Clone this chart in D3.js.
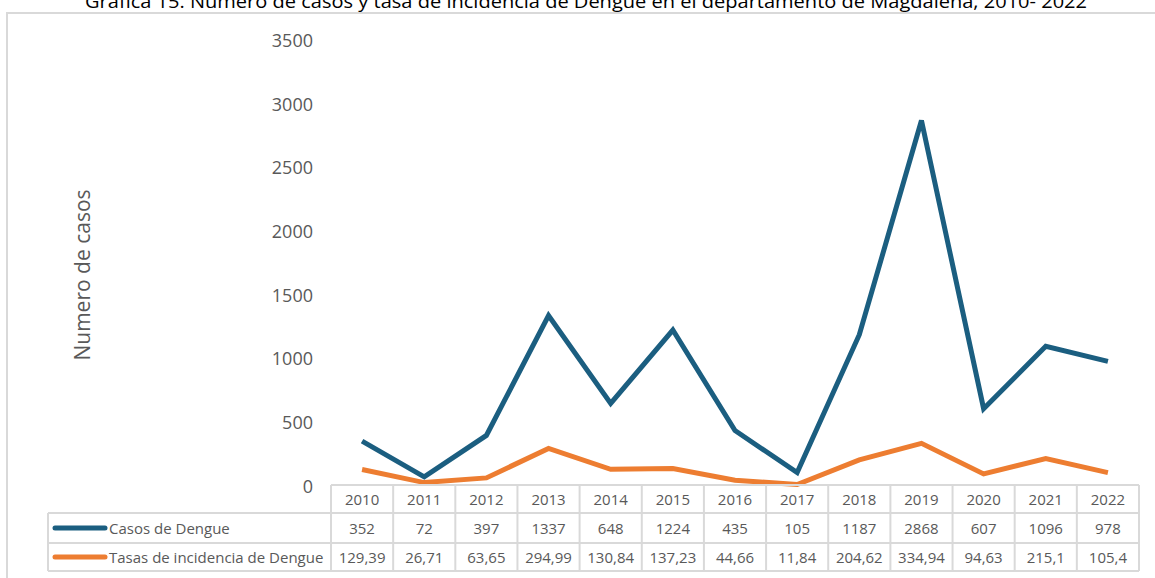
<!DOCTYPE html>
<html><head><meta charset="utf-8">
<script src="https://cdn.jsdelivr.net/npm/d3@7"></script>
<style>html,body{margin:0;padding:0;background:#fff;overflow:hidden}</style>
</head><body>
<svg id="c" width="1155" height="578"></svg>
<script>
const years = ["2010","2011","2012","2013","2014","2015","2016","2017","2018","2019","2020","2021","2022"];
const casos = [352,72,397,1337,648,1224,435,105,1187,2868,607,1096,978];
const tasas = [129.39,26.71,63.65,294.99,130.84,137.23,44.66,11.84,204.62,334.94,94.63,215.1,105.4];
const tasasLabels = ["129,39","26,71","63,65","294,99","130,84","137,23","44,66","11,84","204,62","334,94","94,63","215,1","105,4"];
const yTicks = [0,500,1000,1500,2000,2500,3000,3500];
const seriesNames = ["Casos de Dengue","Tasas de incidencia de Dengue"];
const titleText = "Gráfica 15. Número de casos y tasa de incidencia de Dengue en el departamento de Magdalena, 2010- 2022";
const yTitle = "Numero de casos";

const FONT = "'Open Sans', 'Noto Sans', sans-serif";
const GREY = "#595959";
const BORDER = "#d9d9d9";
const colors = ["#1b5e80","#ed7d31"];

const svg = d3.select("#c");

// frame
svg.append("path").attr("d","M7,580 L7,13 L1160,13").attr("fill","none")
  .attr("stroke",BORDER).attr("stroke-width",2);

// title
const t = svg.append("text").attr("x",586).attr("y",7.5).attr("text-anchor","middle")
  .attr("font-family",FONT).attr("font-size",18).attr("fill","#000").text(titleText);
t.attr("textLength",1002).attr("lengthAdjust","spacingAndGlyphs");

const tableLeft = 48, gridLeft = 331, gridRight = 1139;
const x = d3.scaleBand().domain(years).range([gridLeft, gridRight]).padding(0);
const y = d3.scaleLinear().domain([0,3500]).range([486,40]);

// y axis labels
const yAxis = d3.axisLeft(y).tickValues(yTicks).tickFormat(d3.format("d")).tickSize(0).tickPadding(0);
const ga = svg.append("g").attr("transform","translate(313,0)").call(yAxis);
ga.select(".domain").remove();
ga.selectAll("text").attr("font-family",FONT).attr("font-size",18).attr("fill",GREY).attr("dy","0.35em");

// y title
svg.append("text").attr("transform","translate(90,275) rotate(-90)").attr("text-anchor","middle")
  .attr("font-family",FONT).attr("font-size",21).attr("fill",GREY).text(yTitle);

// lines
const cx = d => x(d) + x.bandwidth()/2;
[casos,tasas].forEach((vals,i)=>{
  const line = d3.line().x((d,j)=>cx(years[j])).y(d=>y(d));
  svg.append("path").datum(vals).attr("d",line).attr("fill","none")
    .attr("stroke",colors[i]).attr("stroke-width",5).attr("stroke-linejoin","miter");
});

// table
const tg = svg.append("g").attr("fill","none").attr("stroke",BORDER).attr("stroke-width",2);
tg.append("line").attr("x1",gridLeft).attr("x2",gridRight).attr("y1",485).attr("y2",485);
[513,543,571].forEach(yy=>tg.append("line").attr("x1",tableLeft).attr("x2",gridRight).attr("y1",yy).attr("y2",yy));
tg.append("line").attr("x1",tableLeft).attr("x2",tableLeft).attr("y1",513).attr("y2",571);
years.forEach(yr=>tg.append("line").attr("x1",x(yr)).attr("x2",x(yr)).attr("y1",485).attr("y2",571));
tg.append("line").attr("x1",gridRight).attr("x2",gridRight).attr("y1",485).attr("y2",571);

const txt = (xx,yy,s,anchor,size)=>svg.append("text").attr("x",xx).attr("y",yy).attr("dy","0.35em")
  .attr("text-anchor",anchor).attr("font-family",FONT).attr("font-size",size).attr("fill",GREY).text(s);

years.forEach((yr,j)=>{
  txt(cx(yr),499.5,yr,"middle",15);
  txt(cx(yr),528.5,String(casos[j]),"middle",15);
  txt(cx(yr),557.5,tasasLabels[j],"middle",15);
});
seriesNames.forEach((n,i)=>{
  const yy = i===0 ? 528 : 557;
  svg.append("line").attr("x1",55).attr("x2",105).attr("y1",yy).attr("y2",yy)
    .attr("stroke",colors[i]).attr("stroke-width",5).attr("stroke-linecap","round");
  txt(109,yy+0.5,n,"start",15);
});
</script>
</body></html>
